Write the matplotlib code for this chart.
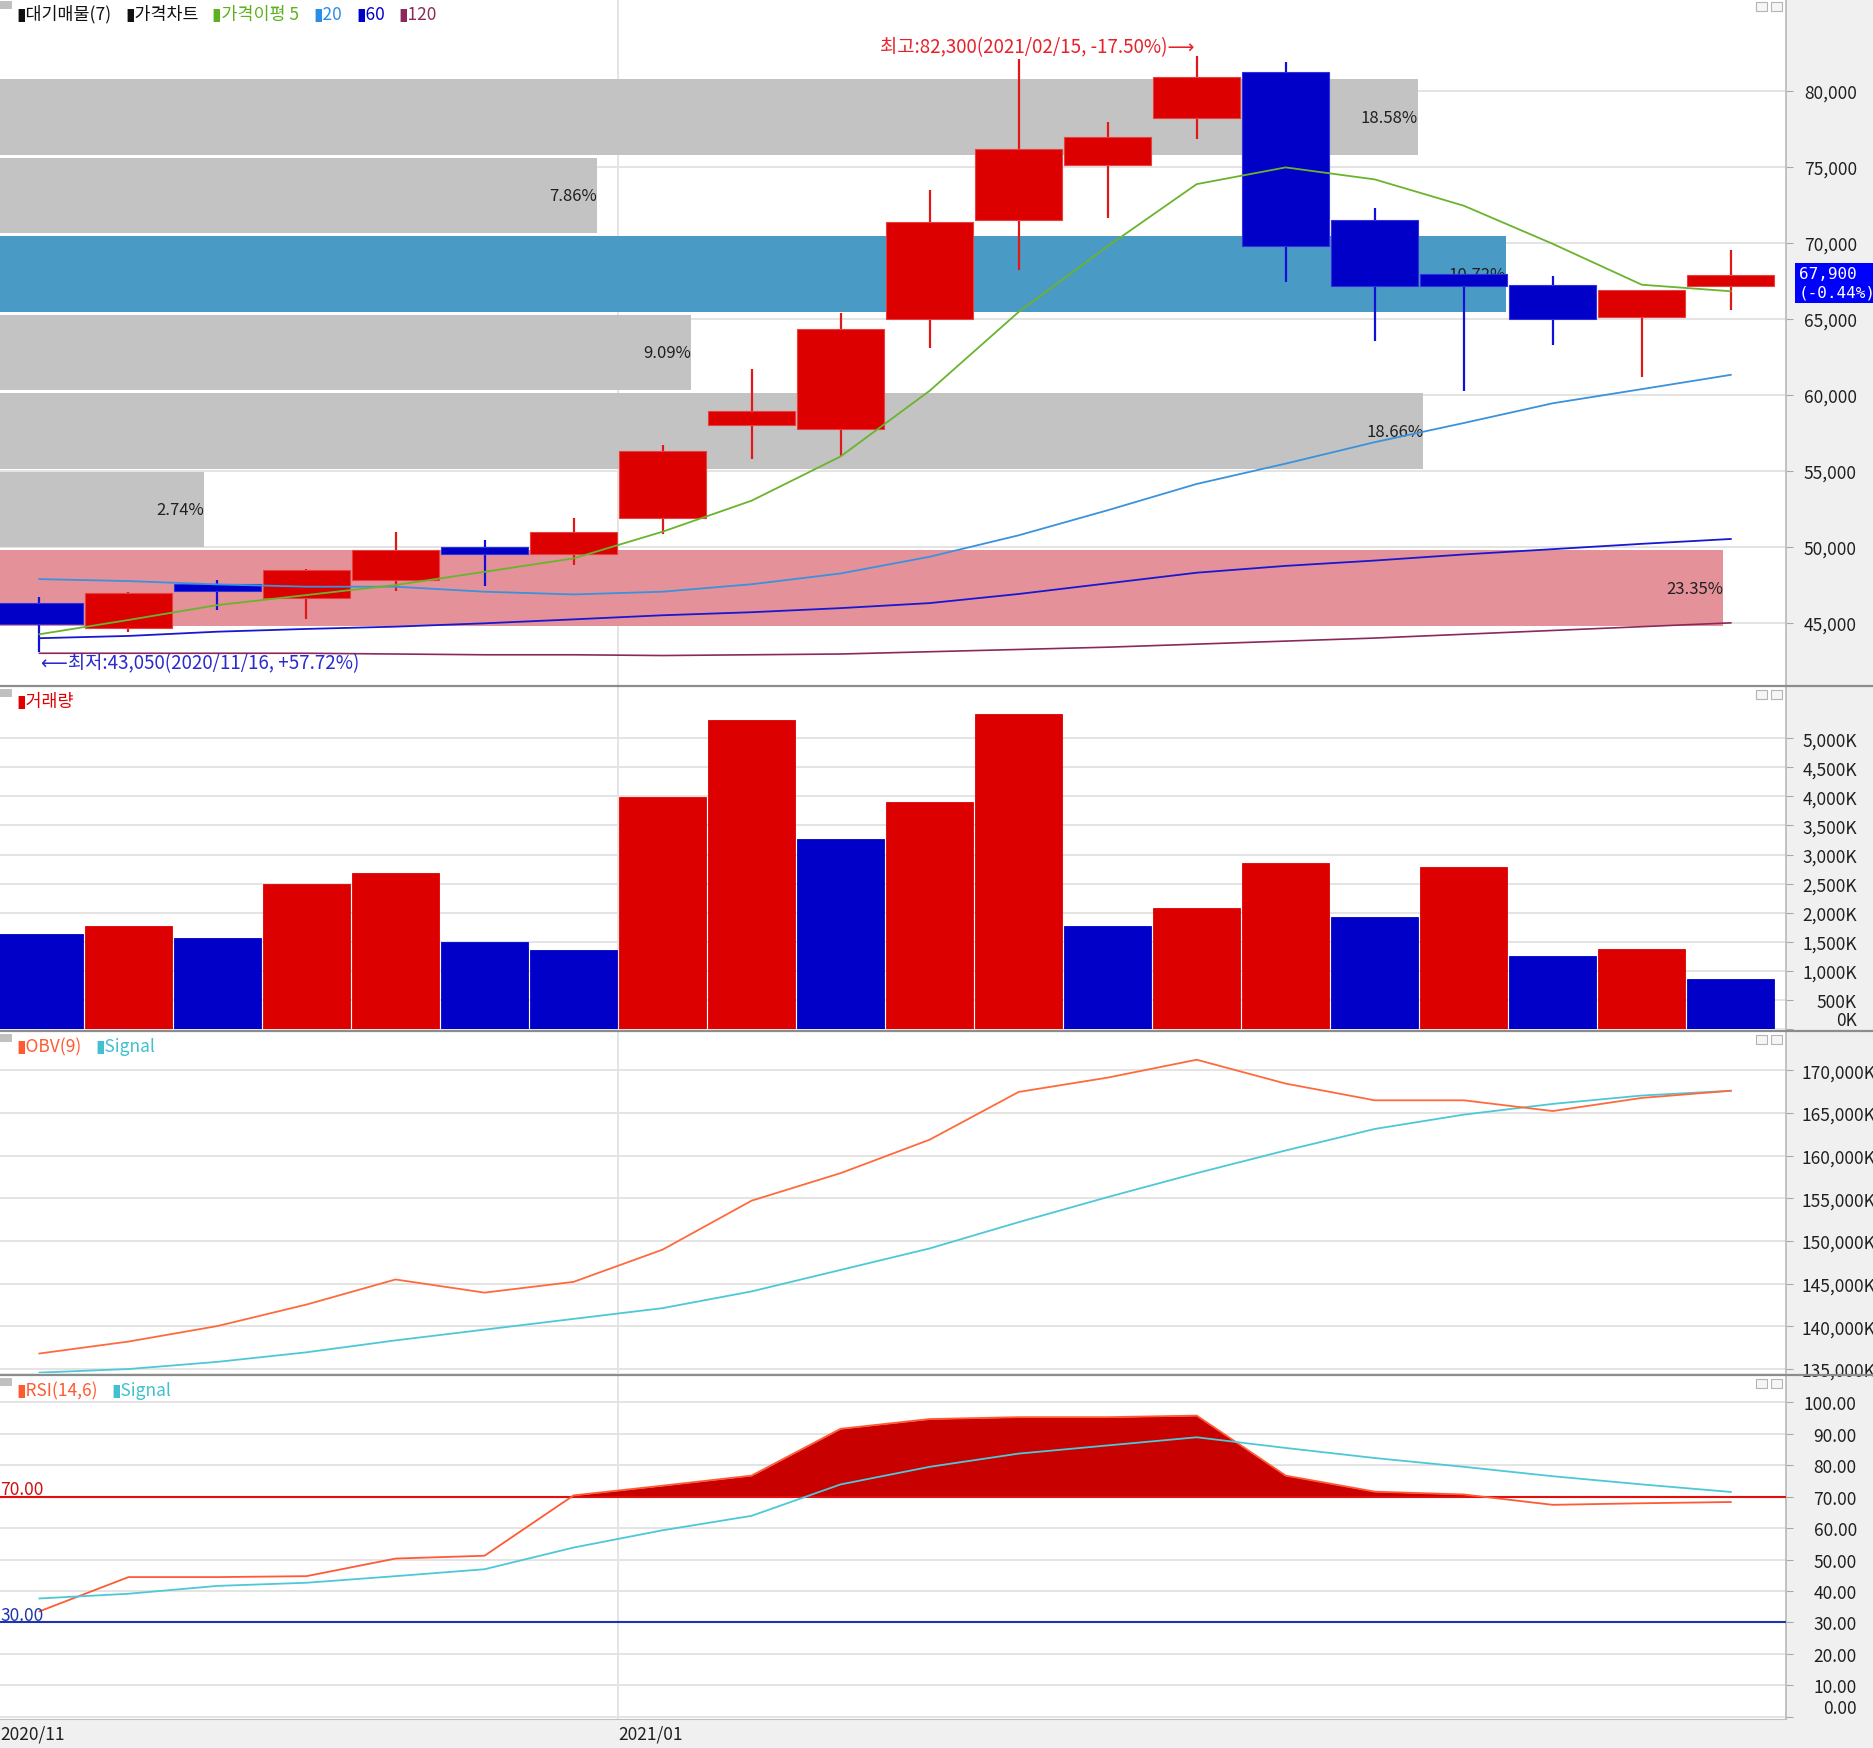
import matplotlib
matplotlib.use('Agg')
import matplotlib.pyplot as plt
import matplotlib.transforms as mtransforms
from matplotlib.patches import Rectangle
from matplotlib.lines import Line2D
from matplotlib.offsetbox import TextArea, HPacker, AnchoredOffsetbox
import numpy as np

plt.rcParams['font.family'] = ['Noto Sans CJK KR', 'DejaVu Sans']

# ---- weekly data ----
dates = ['2020/11/16', '2020/11/23', '2020/11/30', '2020/12/07', '2020/12/14',
         '2020/12/21', '2020/12/28', '2021/01/04', '2021/01/11', '2021/01/18',
         '2021/01/25', '2021/02/01', '2021/02/08', '2021/02/15', '2021/02/22',
         '2021/03/01', '2021/03/08', '2021/03/15', '2021/03/22', '2021/03/29']
opens = [46320, 44650, 47530, 46610, 47810, 50000, 49500, 51900, 57990, 57760,
         64990, 71510, 75130, 78190, 81260, 71510, 67960, 67260, 65110, 67190]
highs = [46720, 47000, 47810, 48550, 50980, 50480, 51920, 56730, 61690, 65380,
         73480, 82100, 77960, 82300, 81890, 72300, 67960, 67850, 66890, 69540]
lows = [43050, 44380, 45850, 45230, 47110, 47420, 48800, 50840, 55790, 55950,
        63100, 68210, 71670, 76860, 67420, 63570, 60280, 63310, 61180, 65610]
closes = [44900, 46940, 47120, 48510, 49780, 49500, 50980, 56340, 58940, 64360,
          71350, 76150, 76940, 80940, 69780, 67190, 67190, 65020, 66890, 67900]

ma5 = [44250, 45190, 46170, 46830, 47490, 48360, 49240, 51000, 53040, 55950,
       60270, 65460, 69780, 73870, 74970, 74180, 72450, 69940, 67250, 66820]
ma20 = [47880, 47750, 47530, 47380, 47380, 47050, 46870, 47050, 47540, 48250,
        49350, 50760, 52410, 54140, 55480, 56890, 58150, 59450, 60380, 61320]
ma60 = [43990, 44140, 44420, 44600, 44750, 44970, 45230, 45500, 45700, 45970,
        46300, 46900, 47600, 48300, 48750, 49100, 49500, 49850, 50200, 50520]
ma120 = [43000, 43000, 43000, 43000, 42950, 42900, 42900, 42850, 42900, 42950,
         43100, 43250, 43400, 43600, 43800, 44000, 44250, 44500, 44750, 45000]

# volume in thousands, colour by change vs previous week
volume = [1625, 1770, 1564, 2490, 2675, 1502, 1358, 3992, 5309, 3272,
          3909, 5412, 1770, 2078, 2860, 1934, 2778, 1255, 1379, 864]
vol_up = 'BRBRRBBRRBRRBRRBRBRB'

obv = [136810, 138210, 140030, 142550, 145490, 143950, 145210, 148990, 154730, 157960,
       161880, 167480, 169160, 171260, 168460, 166500, 166500, 165240, 166780, 167620]
obv_signal = [134570, 134990, 135830, 136950, 138350, 139610, 140870, 142130, 144090, 146610,
              149130, 152210, 155150, 157960, 160620, 163140, 164820, 166080, 167060, 167620]

rsi = [33.5, 44.4, 44.4, 44.7, 50.3, 51.2, 70.4, 73.5, 76.7, 91.6,
       94.7, 95.3, 95.3, 95.8, 76.7, 71.6, 70.7, 67.4, 67.9, 68.3]
rsi_signal = [37.6, 39.1, 41.6, 42.6, 44.7, 46.9, 53.8, 59.3, 63.9, 73.9,
              79.5, 83.7, 86.3, 88.9, 85.5, 82.3, 79.5, 76.5, 73.9, 71.5]

# volume profile (대기매물), top band first
vp_pct = [18.58, 7.86, 10.72, 9.09, 18.66, 2.74, 23.35]
vp_len = [0.794, 0.334, 0.843, 0.387, 0.797, 0.114, 0.965]   # drawn length, share of width
vp_top = 80865
vp_step = 5165

x_labels = ['2020/11', '2021/01']

RED = '#dd0000'
BLUE = '#0000c8'
GRID = '#e4e4e4'

n = len(dates)
x = np.arange(n)
xlim = (-0.443, 19.62)

W, H = 1873, 1749
fig = plt.figure(figsize=(W / 100, H / 100), dpi=100, facecolor='#f0f0f0')


def make_axes(top_px, bottom_px):
    ax = fig.add_axes([0, 1 - bottom_px / H, 1786 / W, (bottom_px - top_px) / H])
    ax.set_facecolor('white')
    ax.set_xlim(*xlim)
    ax.set_axisbelow(True)
    ax.grid(axis='y', color=GRID, lw=1.4)
    ax.axvline(6.5, color=GRID, lw=1.4, zorder=0.5)
    for s in ('top', 'left', 'bottom'):
        ax.spines[s].set_visible(False)
    ax.spines['right'].set_color('#b8b8b8')
    ax.spines['right'].set_linewidth(1.2)
    ax.yaxis.tick_right()
    ax.tick_params(axis='x', bottom=False, labelbottom=False)
    ax.tick_params(axis='y', length=5, color='#a8a8a8', labelsize=12.5,
                   labelcolor='#202020')
    # little window icons
    hp = ax.bbox.height
    for x0 in (1756, 1771):
        ax.add_patch(Rectangle((x0 / 1786, 1 - 12 / hp), 11 / 1786, 9 / hp,
                               transform=ax.transAxes, fc='#f6f6f6', ec='#b4b4b4',
                               lw=0.8, clip_on=False, zorder=10))
    ax.add_patch(Rectangle((0, 1 - 10 / hp), 12 / 1786, 8 / hp, transform=ax.transAxes,
                           fc='#c0c0c0', ec='none', clip_on=False, zorder=10))
    return ax


def right_labels(ax, ticks, fmt, align_right=True):
    ax.set_yticks(ticks)
    ax.set_yticklabels([fmt(t) for t in ticks])
    if align_right:
        ax.tick_params(axis='y', pad=46)
        for lbl in ax.get_yticklabels():
            lbl.set_horizontalalignment('right')
    else:
        ax.tick_params(axis='y', pad=6)


def title(ax, items):
    boxes = [TextArea(t, textprops=dict(color=c, fontsize=12.5)) for t, c in items]
    pack = HPacker(children=boxes, align='baseline', pad=0, sep=10)
    hp = ax.bbox.height
    anc = AnchoredOffsetbox(loc='upper left', child=pack, pad=0, borderpad=0,
                            frameon=False, bbox_to_anchor=(0.009, 1 - 5 / hp),
                            bbox_transform=ax.transAxes)
    anc.set_zorder(10)
    ax.add_artist(anc)


# ---- price panel ----
ax_p = make_axes(0, 686)
ax_p.set_ylim(40911, 86052)
right_labels(ax_p, list(range(45000, 80001, 5000)), lambda v: f'{v:,}')

blend = mtransforms.blended_transform_factory(ax_p.transAxes, ax_p.transData)
max_i = int(np.argmax(vp_pct))
for i, (pct, ln) in enumerate(zip(vp_pct, vp_len)):
    lo = vp_top - (i + 1) * vp_step
    hi = lo + vp_step
    if i == max_i:
        fc = '#e4919a'
    elif lo <= closes[-1] < hi:
        fc = '#4a9ac6'
    else:
        fc = '#c3c3c3'
    ax_p.add_patch(Rectangle((0, lo + 110), ln, vp_step - 220, transform=blend,
                             fc=fc, ec='none', zorder=1))
    ax_p.text(ln, lo + vp_step / 2, f'{pct:.2f}%', transform=blend, ha='right',
              va='center', fontsize=12, color='#202020', zorder=2)

for i in range(n):
    up = closes[i] >= opens[i]
    col = RED if up else BLUE
    bot = min(opens[i], closes[i])
    h = max(abs(closes[i] - opens[i]), 80)
    ax_p.vlines(x[i], lows[i], highs[i], colors=('#e01818' if up else '#1010d8'),
                lw=1.6, zorder=2.9)
    ax_p.bar(x[i], h, bottom=bot, width=0.98, color=col,
             edgecolor=('#e84040' if up else '#3030e0'), lw=0.8, zorder=3)

ax_p.plot(x, ma120, color='#8b2a5a', lw=1.2, zorder=4)
ax_p.plot(x, ma60, color='#1818d0', lw=1.3, zorder=4)
ax_p.plot(x, ma20, color='#3b92dc', lw=1.3, zorder=4)
ax_p.plot(x, ma5, color='#6ab42d', lw=1.3, zorder=4)

hi_i = int(np.argmax(highs))
lo_i = int(np.argmin(lows))
hi_pct = (closes[-1] / highs[hi_i] - 1) * 100
lo_pct = (closes[-1] / lows[lo_i] - 1) * 100
ax_p.annotate(f'최고:{highs[hi_i]:,}({dates[hi_i]}, {hi_pct:.2f}%)⟶',
              xy=(hi_i, highs[hi_i]), xytext=(-2, 7), textcoords='offset points',
              ha='right', va='center', color='#e8202a', fontsize=13.5, zorder=6)
ax_p.annotate(f'⟵최저:{lows[lo_i]:,}({dates[lo_i]}, +{lo_pct:.2f}%)',
              xy=(lo_i, lows[lo_i]), xytext=(1, -7), textcoords='offset points',
              ha='left', va='center', color='#2a2acf', fontsize=13.5, zorder=6)

ax_p.annotate(f'{closes[-1]:,}\n(-0.44%)', xy=(1, closes[-1]),
              xycoords=('axes fraction', 'data'), xytext=(9, 6.5),
              textcoords='offset points', ha='left', va='top', color='white',
              fontsize=11.5, family='DejaVu Sans Mono', linespacing=1.3,
              bbox=dict(boxstyle='square,pad=0.2', fc='#0000ff', ec='none'),
              annotation_clip=False, zorder=10)

title(ax_p, [('▮대기매물(7)', '#111111'), ('▮가격차트', '#111111'),
             ('▮가격이평 5', '#5db01e'), ('▮20', '#2a8ee8'), ('▮60', '#0000cc'),
             ('▮120', '#8b2a5a')])

# ---- volume panel ----
ax_v = make_axes(688, 1030)
ax_v.set_ylim(0, 5880)
right_labels(ax_v, list(range(0, 5001, 500)), lambda v: f'{v:,}K')
ax_v.get_yticklabels()[0].set_verticalalignment('bottom')
vcols = [RED if c == 'R' else BLUE for c in vol_up]
ax_v.bar(x, volume, width=0.98, color=vcols, edgecolor=vcols, lw=0.6, zorder=3)
title(ax_v, [('▮거래량', '#e00000')])

# ---- OBV panel ----
ax_o = make_axes(1033, 1374)
ax_o.set_ylim(134524, 174510)
right_labels(ax_o, list(range(135000, 170001, 5000)), lambda v: f'{v:,}K',
             align_right=False)
ax_o.plot(x, obv_signal, color='#4cc8d8', lw=1.3, zorder=3)
ax_o.plot(x, obv, color='#ff6a3d', lw=1.3, zorder=4)
title(ax_o, [('▮OBV(9)', '#ff5a30'), ('▮Signal', '#40c0d0')])

# ---- RSI panel ----
ax_r = make_axes(1377, 1720)
ax_r.set_ylim(-0.76, 108.4)
right_labels(ax_r, list(range(0, 101, 10)), lambda v: f'{v:.2f}')
ax_r.get_yticklabels()[0].set_verticalalignment('bottom')
ax_r.spines['bottom'].set_visible(True)
ax_r.spines['bottom'].set_color('#c0c0c0')
rsi_a = np.array(rsi)
ax_r.fill_between(x, rsi_a, 70, where=rsi_a >= 70, interpolate=True,
                  color='#c80000', lw=0, zorder=2)
ax_r.axhline(70, color='#e01010', lw=1.5, zorder=3)
ax_r.axhline(30, color='#1f35b0', lw=1.5, zorder=3)
ax_r.plot(x, rsi, color='#ff5a36', lw=1.3, zorder=4)
ax_r.plot(x, rsi_signal, color='#4cc8d8', lw=1.3, zorder=4)
ax_r.text(xlim[0], 69.6, '70.00', color='#d01010', fontsize=12.5, ha='left',
          va='bottom', zorder=5)
ax_r.text(xlim[0], 29.6, '30.00', color='#1f35b0', fontsize=12.5, ha='left',
          va='bottom', zorder=5)
title(ax_r, [('▮RSI(14,6)', '#ff5a30'), ('▮Signal', '#40c0d0')])

# month labels on the bottom axis
xt = []
for lab in x_labels:
    first = next(i for i, d in enumerate(dates) if d.startswith(lab))
    xt.append(max(first - 0.5, xlim[0]))
ax_r.set_xticks(xt)
ax_r.set_xticklabels(x_labels, ha='left')
ax_r.tick_params(axis='x', bottom=True, labelbottom=True, length=0, pad=4,
                 labelsize=12.5, labelcolor='#202020')

# panel separators
for yp in (687, 1031.5, 1375.5):
    fig.add_artist(Line2D([0, 1], [1 - yp / H, 1 - yp / H], transform=fig.transFigure,
                          color='#8c8c8c', lw=1.6))

fig.savefig('out.png', dpi=100, facecolor=fig.get_facecolor())
